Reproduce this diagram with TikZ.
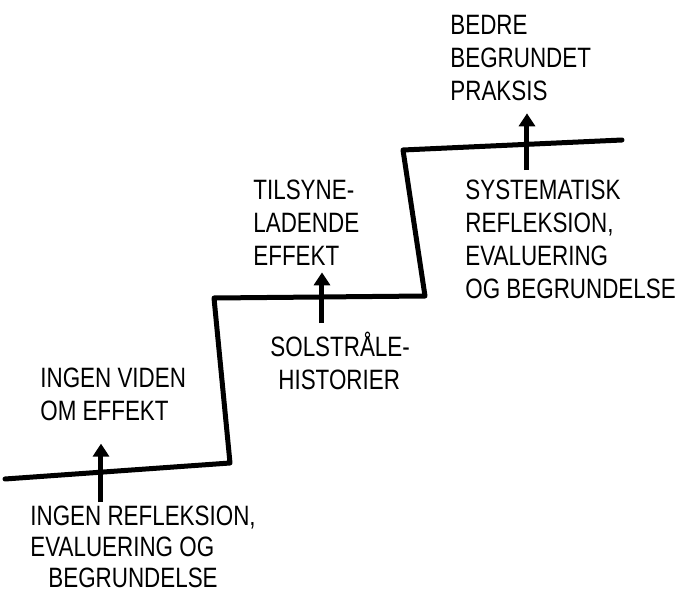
\documentclass[tikz,border=0pt]{standalone}
\usepackage{fontspec}
\setmainfont[FakeStretch=0.8]{Liberation Sans}
\usetikzlibrary{arrows.meta}
\tikzset{
  stairline/.style={line width=2.5pt, line join=round, line cap=round},
  hand/.style={font=\fontsize{14}{16.5}\selectfont, align=left, inner sep=0pt, anchor=north west},
  uparrow/.style={line width=2.5pt, -{Triangle[width=8pt,length=6.5pt]}},
}

\begin{document}
\begin{tikzpicture}[x=0.5pt, y=-0.5pt]
  \useasboundingbox (0,0) rectangle (677,595);

  %% The staircase
  \draw[stairline] (5,479) -- (230,463) -- (214,298) -- (425,296)
    -- (403,150) -- (622,140);

  %% Step 1
  \node[hand] (viden) at (40,368) {INGEN VIDEN\\OM EFFEKT};
  \node[hand, font=\fontsize{14}{15.5}\selectfont] (refl1) at (30,506)
    {INGEN REFLEKSION,\\EVALUERING OG\\\hspace{9pt}BEGRUNDELSE};
  \coordinate (a1x) at (101,0);
  \draw[uparrow, shorten <=2pt, shorten >=11pt] (refl1.north -| a1x) -- (viden.south -| a1x);

  %% Step 2
  \node[hand] (tilsyne) at (253,180) {TILSYNE-\\LADENDE\\EFFEKT};
  \node[hand] (solstraale) at (270,332) {SOLSTRÅLE-\\\hspace{4pt}HISTORIER};
  \coordinate (a2x) at (322,0);
  \draw[uparrow, shorten <=4.5pt, shorten >=3pt] (solstraale.north -| a2x) -- (tilsyne.south -| a2x);

  %% Step 3
  \node[hand] (bedre) at (450,15) {BEDRE\\BEGRUNDET\\PRAKSIS};
  \node[hand] (system) at (465,180) {SYSTEMATISK\\REFLEKSION,\\EVALUERING\\OG BEGRUNDELSE};
  \coordinate (a3x) at (527,0);
  \draw[uparrow, shorten <=5pt, shorten >=6pt] (system.north -| a3x) -- (bedre.south -| a3x);

\end{tikzpicture}
\end{document}
